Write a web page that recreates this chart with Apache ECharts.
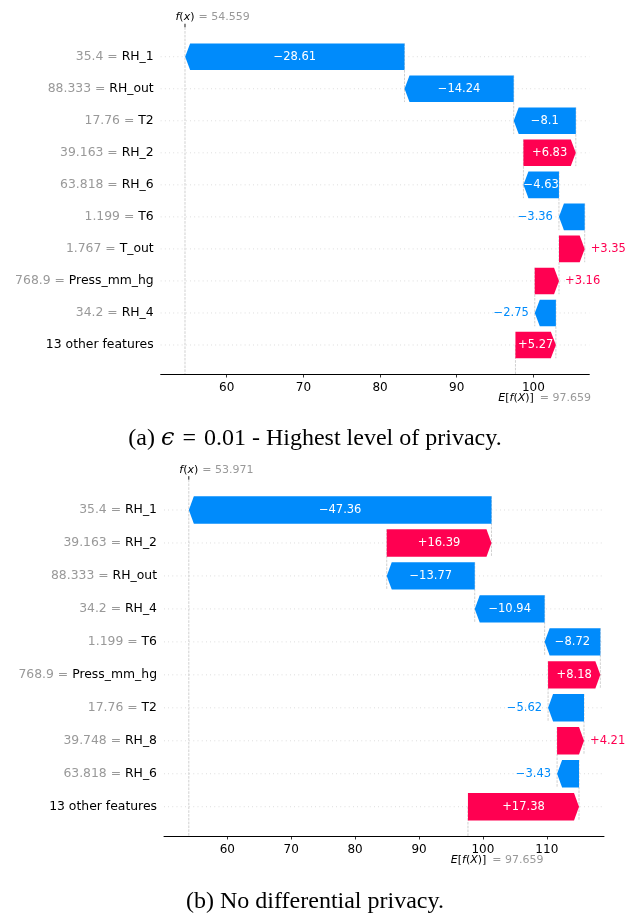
<!DOCTYPE html>
<html>
<head>
<meta charset="utf-8">
<script src="https://cdn.jsdelivr.net/npm/echarts@6/dist/echarts.min.js"></script>
<style>
html, body { margin: 0; padding: 0; background: #fff; }
#chart { width: 634px; height: 918px; }
</style>
</head>
<body>
<div id="chart"></div>
<script>
// (a) epsilon = 0.01
var featuresA = ["RH_1", "RH_out", "T2", "RH_2", "RH_6", "T6", "T_out", "Press_mm_hg", "RH_4", "13 other features"];
var featureValsA = ["35.4", "88.333", "17.76", "39.163", "63.818", "1.199", "1.767", "768.9", "34.2", ""];
var shapA = [-28.61, -14.24, -8.1, 6.83, -4.63, -3.36, 3.35, 3.16, -2.75, 5.27];
var baseA = 97.659;
var fxA = 54.559;
var ticksA = [60, 70, 80, 90, 100];
var xMinA = 51.39, xMaxA = 107.29;

// (b) no differential privacy
var featuresB = ["RH_1", "RH_2", "RH_out", "RH_4", "T6", "Press_mm_hg", "T2", "RH_8", "RH_6", "13 other features"];
var featureValsB = ["35.4", "39.163", "88.333", "34.2", "1.199", "768.9", "17.76", "39.748", "63.818", ""];
var shapB = [-47.36, 16.39, -13.77, -10.94, -8.72, 8.18, -5.62, 4.21, -3.43, 17.38];
var baseB = 97.659;
var fxB = 53.971;
var ticksB = [60, 70, 80, 90, 100, 110];
var xMinB = 50.09, xMaxB = 118.95;

var POS = "#ff0051", NEG = "#008bfb";
var FONT = '"DejaVu Sans", sans-serif';
var SERIF = '"Liberation Serif", "DejaVu Serif", serif';

// waterfall steps, accumulated from the bottom row (base value) upward
function buildSteps(shap, base) {
  var out = [];
  var cur = base;
  for (var i = shap.length - 1; i >= 0; i--) {
    var start = cur;
    cur = cur + shap[i];
    out[i] = [start, cur, i, shap[i]];
  }
  return out;
}

function fmt(v) {
  var s = Math.abs(v).toFixed(2).replace(/0+$/, "").replace(/\.$/, "");
  return (v < 0 ? "\u2212" : "+") + s;
}

var measureCtx = document.createElement("canvas").getContext("2d");
function textWidth(t, font) {
  measureCtx.font = font;
  return measureCtx.measureText(t).width;
}

function makeBarRenderer(cfg) {
  return function (params, api) {
    var start = api.value(0), end = api.value(1), row = api.value(2), v = api.value(3);
    var cs = params.coordSys;
    var band = api.size([0, 1])[1];
    var h = band * 0.415;
    var ps = api.coord([start, row]);
    var pe = api.coord([end, row]);
    var y = ps[1], xs = ps[0], xe = pe[0];
    var dir = v >= 0 ? 1 : -1;
    var w = Math.abs(xe - xs);
    var hl = Math.min(5, w);
    var color = v >= 0 ? POS : NEG;
    var children = [];
    // row guide
    children.push({
      type: "line", z2: 0,
      shape: { x1: cs.x, y1: y, x2: cs.x + cs.width, y2: y },
      style: { stroke: "#cccccc", lineWidth: 0.8, lineDash: [0.8, 3.4] }
    });
    // connector down to the bar below
    if (row < cfg.n - 1) {
      children.push({
        type: "line", z2: 1,
        shape: { x1: xs, y1: y - h, x2: xs, y2: y + band + h },
        style: { stroke: "#bbbbbb", lineWidth: 0.7, lineDash: [2.6, 1.2] }
      });
    }
    children.push({
      type: "polygon", z2: 5,
      shape: { points: [[xs, y - h], [xe - dir * hl, y - h], [xe, y], [xe - dir * hl, y + h], [xs, y + h]] },
      style: { fill: color }
    });
    var label = fmt(v);
    var font = cfg.labelSize + "px " + FONT;
    if (textWidth(label, font) + cfg.labelPad <= w) {
      children.push({
        type: "text", z2: 6,
        style: { text: label, x: (xs + xe) / 2, y: y, fill: "#ffffff", font: font, align: "center", verticalAlign: "middle" }
      });
    } else {
      children.push({
        type: "text", z2: 6,
        style: { text: label, x: xe + dir * 6, y: y, fill: color, font: font, align: v >= 0 ? "left" : "right", verticalAlign: "middle" }
      });
    }
    return { type: "group", children: children };
  };
}

function makeAnnoRenderer(cfg) {
  return function (params, api) {
    var cs = params.coordSys;
    var band = api.size([0, 1])[1];
    var fxPt = api.coord([api.value(0), 0]);
    var basePt = api.coord([api.value(1), cfg.n - 1]);
    var axisY = cs.y + cs.height + cfg.axisOffset;
    var topY = fxPt[1] - band * 0.92;
    var dash = { stroke: "#bbbbbb", lineWidth: 0.7, lineDash: [2.6, 1.2] };
    var f11 = "11px " + FONT;
    var rich = {
      i: { fontSize: 11, fontFamily: FONT, fontStyle: "italic", color: "#000" },
      n: { fontSize: 11, fontFamily: FONT, color: "#000" }
    };
    return {
      type: "group",
      children: [
        { type: "line", shape: { x1: fxPt[0], y1: topY, x2: fxPt[0], y2: axisY }, style: dash },
        { type: "line", shape: { x1: fxPt[0], y1: topY - 3.5, x2: fxPt[0], y2: topY }, style: { stroke: "#000", lineWidth: 0.9 } },
        { type: "line", shape: { x1: basePt[0], y1: basePt[1], x2: basePt[0], y2: axisY }, style: dash },
        {
          type: "text",
          style: { text: "{i|f}{n|(}{i|x}{n|)}", rich: rich, x: fxPt[0] - 9.5, y: topY - 10, align: "left", verticalAlign: "middle" }
        },
        {
          type: "text",
          style: { text: "= " + cfg.fxText, x: fxPt[0] + 13.5, y: topY - 10, fill: "#999999", font: f11, align: "left", verticalAlign: "middle" }
        },
        {
          type: "text",
          style: { text: "{i|E}{n|[}{i|f}{n|(}{i|X}{n|)]}", rich: rich, x: basePt[0] + 18.4, y: axisY + 24, align: "right", verticalAlign: "middle" }
        },
        {
          type: "text",
          style: { text: "= " + cfg.baseText, x: basePt[0] + 24.4, y: axisY + 24, fill: "#999999", font: f11, align: "left", verticalAlign: "middle" }
        }
      ]
    };
  };
}

function yLabelFormatter(vals) {
  return function (name, idx) {
    return vals[idx] ? "{v|" + vals[idx] + " = }{n|" + name + "}" : "{n|" + name + "}";
  };
}

var yRich = {
  v: { color: "#999999", fontSize: 12.4, fontFamily: FONT },
  n: { color: "#000000", fontSize: 12.4, fontFamily: FONT }
};

function xAxisOf(idx, min, max, ticks, offset) {
  return {
    type: "value", gridIndex: idx, min: min, max: max, offset: offset,
    axisLine: { show: true, onZero: false, lineStyle: { color: "#000", width: 1 } },
    axisTick: { show: true, length: 3.5, customValues: ticks, lineStyle: { color: "#000", width: 0.8 } },
    axisLabel: { customValues: ticks, color: "#000", fontSize: 12, fontFamily: FONT, margin: 7.5 },
    splitLine: { show: false }
  };
}

function yAxisOf(idx, features, vals) {
  return {
    type: "category", gridIndex: idx, inverse: true, data: features,
    axisLine: { show: false }, axisTick: { show: false }, splitLine: { show: false },
    axisLabel: { interval: 0, margin: 7, formatter: yLabelFormatter(vals), rich: yRich }
  };
}

var cfgA = { n: featuresA.length, axisOffset: 13, labelSize: 11.5, labelPad: 0, fxText: fxA.toFixed(3), baseText: baseA.toFixed(3) };
var cfgB = { n: featuresB.length, axisOffset: 12.8, labelSize: 11.5, labelPad: 1, fxText: fxB.toFixed(3), baseText: baseB.toFixed(3) };

var chart = echarts.init(document.getElementById("chart"));
var option = {
  animation: false,
  backgroundColor: "#ffffff",
  grid: [
    { left: 160.7, top: 40.7, width: 428.6, height: 320.3 },
    { left: 164, top: 493.5, width: 440, height: 329.7 }
  ],
  xAxis: [
    xAxisOf(0, xMinA, xMaxA, ticksA, cfgA.axisOffset),
    xAxisOf(1, xMinB, xMaxB, ticksB, cfgB.axisOffset)
  ],
  yAxis: [
    yAxisOf(0, featuresA, featureValsA),
    yAxisOf(1, featuresB, featureValsB)
  ],
  series: [
    { type: "custom", xAxisIndex: 0, yAxisIndex: 0, z: 1, silent: true, clip: false,
      encode: { x: [0, 1], y: 2 }, data: [[fxA, baseA, 0]], renderItem: makeAnnoRenderer(cfgA) },
    { type: "custom", xAxisIndex: 0, yAxisIndex: 0, z: 2, silent: true, clip: false,
      encode: { x: [0, 1], y: 2 }, data: buildSteps(shapA, baseA), renderItem: makeBarRenderer(cfgA) },
    { type: "custom", xAxisIndex: 1, yAxisIndex: 1, z: 1, silent: true, clip: false,
      encode: { x: [0, 1], y: 2 }, data: [[fxB, baseB, 0]], renderItem: makeAnnoRenderer(cfgB) },
    { type: "custom", xAxisIndex: 1, yAxisIndex: 1, z: 2, silent: true, clip: false,
      encode: { x: [0, 1], y: 2 }, data: buildSteps(shapB, baseB), renderItem: makeBarRenderer(cfgB) }
  ],
  graphic: [
    {
      type: "text", x: 315, y: 439,
      style: {
        text: "{n|(a) }{e|\u03f5}{n|\u2004=\u20040.01 - Highest level of privacy.}",
        rich: {
          n: { fontSize: 24, fontFamily: SERIF, color: "#000" },
          e: { fontSize: 24, fontFamily: '"DejaVu Serif", "Liberation Serif", serif', fontStyle: "italic", color: "#000" }
        },
        align: "center", verticalAlign: "middle", textAlign: "center", textVerticalAlign: "middle"
      }
    },
    {
      type: "text", x: 315, y: 902,
      style: {
        text: "(b) No differential privacy.",
        font: "24px " + SERIF, fill: "#000",
        align: "center", verticalAlign: "middle", textAlign: "center", textVerticalAlign: "middle"
      }
    }
  ]
};
chart.setOption(option);
</script>
</body>
</html>
